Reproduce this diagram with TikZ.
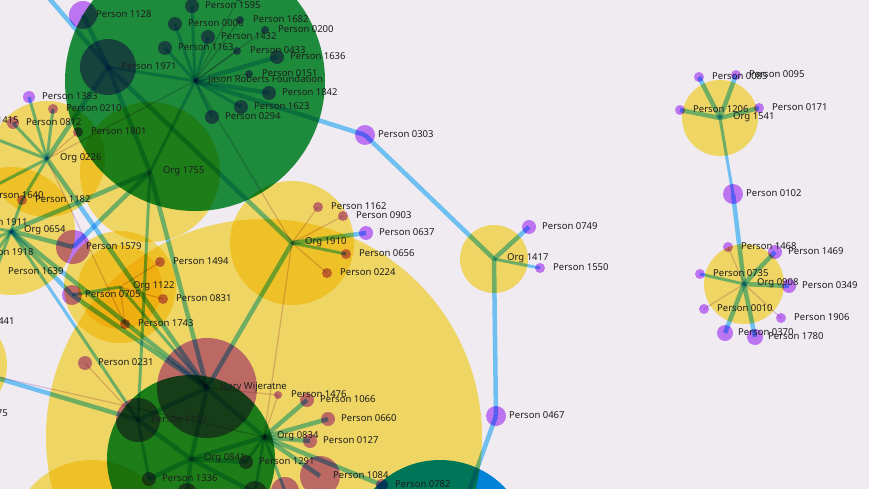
\documentclass[tikz,border=0pt]{standalone}
\usepackage{fontspec}
\setmainfont{Noto Sans}
\definecolor{bgc}{RGB}{239,235,240}
\definecolor{haloY}{RGB}{255,232,106}
\definecolor{haloG}{RGB}{32,150,64}
\definecolor{haloB}{RGB}{0,142,228}
\definecolor{nodeV}{RGB}{200,120,255}
\definecolor{edgeB}{RGB}{95,200,255}
\definecolor{edgeT}{RGB}{215,180,225}
\definecolor{labelC}{RGB}{30,30,30}
\newcommand\nd[2]{\node[vn,minimum size=#2*2pt] (n#1) at (#1) {};}
\newcommand\lb[2]{\node[lbl] (t#1) at ([xshift=13pt,yshift=1pt]#1) {#2};}
\begin{document}
\begin{tikzpicture}[x=1pt,y=-1pt,
  hy/.style={fill=haloY,blend mode=multiply},
  hg/.style={fill=haloG,blend mode=multiply},
  hb/.style={fill=haloB,blend mode=multiply},
  vn/.style={circle,inner sep=0pt,draw=none,fill=nodeV,fill opacity=0.95,blend mode=multiply},
  eb/.style={draw=edgeB,line width=4.5pt,draw opacity=0.85,blend mode=multiply},
  em/.style={draw=edgeB,line width=3pt,draw opacity=0.85,blend mode=multiply},
  et/.style={draw=edgeT,line width=1.2pt,draw opacity=0.7,blend mode=multiply},
  lbl/.style={anchor=west,inner sep=0pt,text=labelC,font=\fontsize{9.5}{11}\selectfont}]
\useasboundingbox (0,0) rectangle (869,489);
\fill[bgc] (0,0) rectangle (869,489);
% ---------- coordinates ----------
\coordinate (J) at (195,81);
\coordinate (O1755) at (150,172);
\coordinate (O0226) at (47,159);
\coordinate (O0654) at (11,231);
\coordinate (O1122) at (120,287);
\coordinate (O1910) at (292,243);
\coordinate (O1417) at (494,259);
\coordinate (O0834) at (264,437);
\coordinate (O0841) at (191,459);
\coordinate (O1541) at (720,118);
\coordinate (O0908) at (744,284);
\coordinate (Nary) at (207,388);
\coordinate (Oblue) at (440,550);
\coordinate (OBL) at (92,542);
\coordinate (OLL) at (-45,365);
\coordinate (offA) at (25,-30);
\coordinate (offB) at (455,530);
\coordinate (offC) at (-30,370);
\coordinate (offD) at (-20,373);
\coordinate (p1595) at (192,6);
\coordinate (p1788) at (239,-3);
\coordinate (p1682) at (240,20);
\coordinate (p0006) at (175,24);
\coordinate (p1432) at (208,37);
\coordinate (p0200) at (265,30);
\coordinate (p1163) at (165,48);
\coordinate (p0433) at (237,51);
\coordinate (p1636) at (277,57);
\coordinate (p0151) at (249,74);
\coordinate (p1842) at (269,93);
\coordinate (p1623) at (241,107);
\coordinate (p0294) at (212,117);
\coordinate (p1971) at (108,67);
\coordinate (p1128) at (83,15);
\coordinate (p1383) at (29,97);
\coordinate (p0210) at (53,109);
\coordinate (p0812) at (13,123);
\coordinate (p1415) at (-50,121);
\coordinate (p1801) at (78,132);
\coordinate (p1182) at (22,200);
\coordinate (p1640) at (-25,196);
\coordinate (p1911) at (-41,223);
\coordinate (p1918) at (-35,253);
\coordinate (p1639) at (-5,272);
\coordinate (p1441) at (-54,322);
\coordinate (p1579) at (73,247);
\coordinate (p0705) at (72,295);
\coordinate (p1494) at (160,262);
\coordinate (p0831) at (163,299);
\coordinate (p1743) at (125,324);
\coordinate (p1162) at (318,207);
\coordinate (p0903) at (343,216);
\coordinate (p0637) at (366,233);
\coordinate (p0656) at (346,254);
\coordinate (p0224) at (327,273);
\coordinate (p0303) at (365,135);
\coordinate (p0749) at (529,227);
\coordinate (p1550) at (540,268);
\coordinate (p0467) at (496,416);
\coordinate (p0231) at (85,363);
\coordinate (p1190) at (138,420);
\coordinate (p1476) at (278,395);
\coordinate (p1066) at (307,400);
\coordinate (p0660) at (328,419);
\coordinate (p0127) at (310,441);
\coordinate (p1291) at (246,462);
\coordinate (p1336) at (149,479);
\coordinate (p1084) at (320,476);
\coordinate (p0782) at (382,485);
\coordinate (pB1) at (187,493);
\coordinate (pB2) at (255,493);
\coordinate (pB3) at (285,491);
\coordinate (p0085) at (699,77);
\coordinate (p0095) at (736,75);
\coordinate (p1206) at (680,110);
\coordinate (p0171) at (759,108);
\coordinate (p0102) at (733,194);
\coordinate (p1468) at (728,247);
\coordinate (p1469) at (775,252);
\coordinate (p0735) at (700,274);
\coordinate (p0349) at (789,286);
\coordinate (p0010) at (704,309);
\coordinate (p1906) at (781,318);
\coordinate (p0370) at (725,333);
\coordinate (p1780) at (755,337);
% ---------- halos ----------
\fill[hy] (O0834) circle[radius=218pt];
\fill[hy] (OBL) circle[radius=82pt];
\fill[hy] (OLL) circle[radius=52pt];
\fill[hy] (O0226) circle[radius=58pt];
\fill[hy] (O0654) circle[radius=64pt];
\fill[hy] (O1755) circle[radius=70pt];
\fill[hy] (O1122) circle[radius=56pt];
\fill[hy] (O1122) circle[radius=42pt];
\fill[hy] (O1910) circle[radius=62pt];
\fill[hy] (O1417) circle[radius=34pt];
\fill[hy] (O1541) circle[radius=38pt];
\fill[hy] (O0908) circle[radius=40pt];
\fill[hg] (J) circle[radius=130pt];
\fill[hg] (O0841) circle[radius=84pt];
\fill[hb] (Oblue) circle[radius=90pt];
% ---------- edges ----------
% Jason Roberts Foundation
\draw[em] (J) -- (p1595);
\draw[em] (J) -- (p0006);
\draw[em] (J) -- (p1432);
\draw[em] (J) -- (p1163);
\draw[eb] (J) -- (p1636);
\draw[eb] (J) -- (p1842);
\draw[em] (J) -- (p1623);
\draw[em] (J) -- (p0294);
\draw[em] (J) -- (p1971);
\draw[et] (J) -- (p1788);
\draw[et] (J) -- (p1682);
\draw[et] (J) -- (p0200);
\draw[et] (J) -- (p0433);
\draw[et] (J) -- (p0151);
\draw[eb] (J) -- (p0303);
\draw[eb] (p0303) -- (O1417);
\draw[et] (J) -- (O1910);
\draw[em] (J) -- (O1755);
\draw[et] (J) -- (O0226);
% Person 1971
\draw[eb] (offA) -- (p1971);
\draw[eb] (p1128) -- (p1971);
\draw[eb] (p1971) -- (O1755);
\draw[eb] (p1971) -- (O1910);
\draw[eb] (p1971) -- (O0226);
% Org 0226
\draw[em] (O0226) -- (p1383);
\draw[em] (O0226) -- (p0210);
\draw[em] (O0226) -- (p0812);
\draw[em] (O0226) -- (p1415);
\draw[et] (O0226) -- (p1801);
\draw[em] (O0226) -- (p1182);
\draw[em] (O0226) -- (p1640);
\draw[eb] (O0226) -- (Nary);
% Org 0654
\draw[em] (O0654) -- (p1911);
\draw[em] (O0654) -- (p1918);
\draw[em] (O0654) -- (p1639);
\draw[em] (O0654) -- (p1441);
\draw[em] (O0654) -- (p1182);
\draw[eb] (O0654) -- (p1579);
\draw[eb] (p1579) -- (O1755);
\draw[eb] (O0654) -- (p0705);
\draw[eb] (p0705) -- (Nary);
\draw[eb] (O0654) -- (O1755);
\draw[eb] (O0654) -- (Nary);
\draw[em] (O0654) -- (p1190);
\draw[et] (O0226) -- (p1743);
% Org 1755
\draw[eb] (O1755) -- (Nary);
\draw[em] (O1755) -- (p1190);
% Org 1122
\draw[et] (O1122) -- (p1494);
\draw[et] (O1122) -- (p0831);
\draw[et] (O1122) -- (p1743);
\draw[em] (O1122) -- (p0705);
\draw[em] (O1122) -- (Nary);
% Org 1910
\draw[et] (O1910) -- (p1162);
\draw[et] (O1910) -- (p0903);
\draw[et] (O1910) -- (p0224);
\draw[em] (O1910) -- (p0656);
\draw[eb] (O1910) -- (p0637);
\draw[eb] (O1910) -- (Nary);
\draw[et] (O1910) -- (O0834);
% Nary Wijeratne
\draw[eb] (Nary) -- (O0841);
\draw[eb] (Nary) -- (O0834);
\draw[eb] (Nary) -- (p1190);
\draw[et] (Nary) -- (p1476);
\draw[et] (p0231) -- (p1190);
\draw[eb] (offC) -- (p1190);
\draw[et] (offD) -- (O0834);
% Org 0841
\draw[eb] (O0841) -- (p1190);
\draw[eb] (O0841) -- (p1336);
\draw[eb] (O0841) -- (p1291);
\draw[eb] (O0841) -- (pB1);
\draw[eb] (O0841) -- (pB2);
\draw[eb] (O0841) -- (O0834);
\draw[em] (p1190) -- (p1336);
% Org 0834
\draw[eb] (O0834) -- (p1066);
\draw[eb] (O0834) -- (p0660);
\draw[eb] (O0834) -- (p0127);
\draw[eb] (O0834) -- (p1084);
\draw[eb] (O0834) -- (p0782);
\draw[em] (O0834) -- (p1291);
\draw[et] (O0834) -- (p1476);
\draw[em] (O0834) -- (pB2);
\draw[em] (O0834) -- (pB3);
% Org 1417
\draw[eb] (O1417) -- (p0749);
\draw[em] (O1417) -- (p1550);
\draw[eb] (O1417) -- (p0467);
\draw[eb] (p0467) -- (offB);
% Org 1541
\draw[eb] (O1541) -- (p0085);
\draw[eb] (O1541) -- (p0095);
\draw[eb] (O1541) -- (p1206);
\draw[eb] (O1541) -- (p0171);
\draw[em] (O1541) -- (p0102);
\draw[eb] (p0102) -- (O0908);
% Org 0908
\draw[eb] (O0908) -- (p1469);
\draw[eb] (O0908) -- (p0349);
\draw[eb] (O0908) -- (p0370);
\draw[eb] (O0908) -- (p1780);
\draw[em] (O0908) -- (p0735);
\draw[et] (O0908) -- (p1468);
\draw[et] (O0908) -- (p0010);
\draw[et] (O0908) -- (p1906);
% ---------- person nodes ----------
\nd{p1595}{7} \nd{p1788}{4} \nd{p1682}{4} \nd{p0006}{7} \nd{p1432}{7}
\nd{p0200}{4} \nd{p1163}{7} \nd{p0433}{4} \nd{p1636}{7} \nd{p0151}{4}
\nd{p1842}{7} \nd{p1623}{7} \nd{p0294}{7} \nd{p1971}{28} \nd{p1128}{14}
\nd{p1383}{6} \nd{p0210}{5} \nd{p0812}{6} \nd{p1415}{5} \nd{p1801}{5}
\nd{p1182}{5} \nd{p1640}{5} \nd{p1911}{5} \nd{p1918}{5} \nd{p1639}{5}
\nd{p1441}{5} \nd{p1579}{17} \nd{p0705}{10} \nd{p1494}{5} \nd{p0831}{5}
\nd{p1743}{5} \nd{p1162}{5} \nd{p0903}{5} \nd{p0637}{7} \nd{p0656}{5}
\nd{p0224}{5} \nd{p0303}{10} \nd{p0749}{7} \nd{p1550}{5} \nd{p0467}{10}
\nd{p0231}{7} \nd{Nary}{50} \nd{p1190}{22} \nd{p1476}{4} \nd{p1066}{7}
\nd{p0660}{7} \nd{p0127}{7} \nd{p1291}{7} \nd{p1336}{7} \nd{p1084}{20}
\nd{p0782}{6} \nd{pB1}{10} \nd{pB2}{12} \nd{pB3}{14}
\nd{p0085}{5} \nd{p0095}{5} \nd{p1206}{5} \nd{p0171}{5} \nd{p0102}{10}
\nd{p1468}{5} \nd{p1469}{7} \nd{p0735}{5} \nd{p0349}{7} \nd{p0010}{5}
\nd{p1906}{5} \nd{p0370}{8} \nd{p1780}{8}
% ---------- labels ----------
\lb{J}{Jason Roberts Foundation}
\lb{O1755}{Org 1755}
\lb{O0226}{Org 0226}
\lb{O0654}{Org 0654}
\lb{O1122}{Org 1122}
\lb{O1910}{Org 1910}
\lb{O1417}{Org 1417}
\lb{O0834}{Org 0834}
\lb{O0841}{Org 0841}
\lb{O1541}{Org 1541}
\lb{O0908}{Org 0908}
\lb{Nary}{Nary Wijeratne}
\lb{p1595}{Person 1595}
\lb{p1788}{Person 1788}
\lb{p1682}{Person 1682}
\lb{p0006}{Person 0006}
\lb{p1432}{Person 1432}
\lb{p0200}{Person 0200}
\lb{p1163}{Person 1163}
\lb{p0433}{Person 0433}
\lb{p1636}{Person 1636}
\lb{p0151}{Person 0151}
\lb{p1842}{Person 1842}
\lb{p1623}{Person 1623}
\lb{p0294}{Person 0294}
\lb{p1971}{Person 1971}
\lb{p1128}{Person 1128}
\lb{p1383}{Person 1383}
\lb{p0210}{Person 0210}
\lb{p0812}{Person 0812}
\lb{p1415}{Person 1415}
\lb{p1801}{Person 1801}
\lb{p1182}{Person 1182}
\lb{p1640}{Person 1640}
\lb{p1911}{Person 1911}
\lb{p1918}{Person 1918}
\lb{p1639}{Person 1639}
\lb{p1441}{Person 1441}
\lb{p1579}{Person 1579}
\lb{p0705}{Person 0705}
\lb{p1494}{Person 1494}
\lb{p0831}{Person 0831}
\lb{p1743}{Person 1743}
\lb{p1162}{Person 1162}
\lb{p0903}{Person 0903}
\lb{p0637}{Person 0637}
\lb{p0656}{Person 0656}
\lb{p0224}{Person 0224}
\lb{p0303}{Person 0303}
\lb{p0749}{Person 0749}
\lb{p1550}{Person 1550}
\lb{p0467}{Person 0467}
\lb{p0231}{Person 0231}
\lb{p1190}{Person 1190}
\lb{p1476}{Person 1476}
\lb{p1066}{Person 1066}
\lb{p0660}{Person 0660}
\lb{p0127}{Person 0127}
\lb{p1291}{Person 1291}
\lb{p1336}{Person 1336}
\lb{p1084}{Person 1084}
\lb{p0782}{Person 0782}
\lb{p0085}{Person 0085}
\lb{p0095}{Person 0095}
\lb{p1206}{Person 1206}
\lb{p0171}{Person 0171}
\lb{p0102}{Person 0102}
\lb{p1468}{Person 1468}
\lb{p1469}{Person 1469}
\lb{p0735}{Person 0735}
\lb{p0349}{Person 0349}
\lb{p0010}{Person 0010}
\lb{p1906}{Person 1906}
\lb{p0370}{Person 0370}
\lb{p1780}{Person 1780}
\node[lbl,anchor=east] (t75) at (8,413) {75};
\end{tikzpicture}
\end{document}
